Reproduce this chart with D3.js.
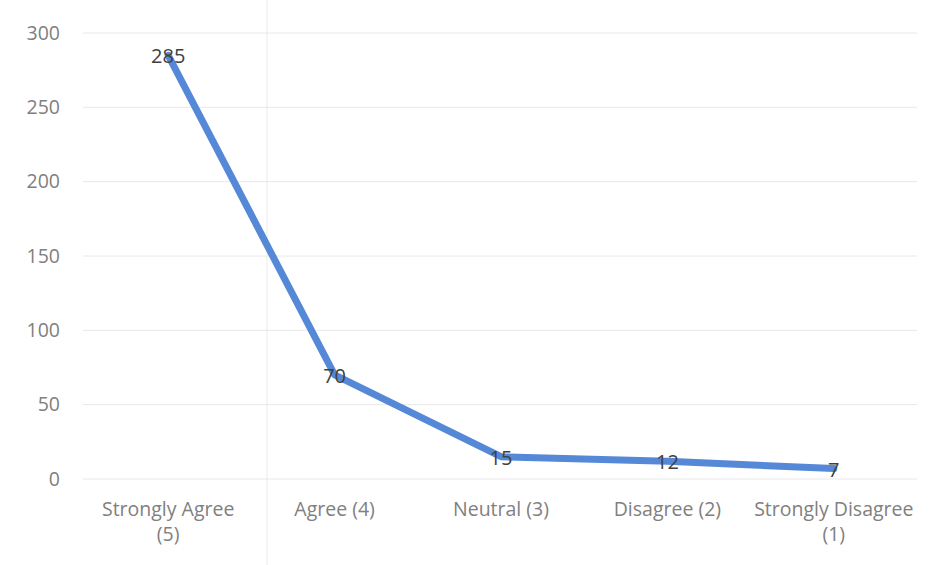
<!DOCTYPE html>
<html><head><meta charset="utf-8">
<script src="https://cdn.jsdelivr.net/npm/d3@7"></script>
<style>body{margin:0;background:#fff;} svg{display:block;}</style>
</head><body>
<svg id="c" width="934" height="565"></svg>
<script>
const categories = ["Strongly Agree (5)", "Agree (4)", "Neutral (3)", "Disagree (2)", "Strongly Disagree (1)"];
const catLines = [["Strongly Agree","(5)"],["Agree (4)"],["Neutral (3)"],["Disagree (2)"],["Strongly Disagree","(1)"]];
const values = [285, 70, 15, 12, 7];
const yTicks = [0, 50, 100, 150, 200, 250, 300];

const svg = d3.select("#c");
const font = "'Open Sans', 'Noto Sans', sans-serif";
const x = d3.scaleBand().domain(categories).range([85, 917]);
const y = d3.scaleLinear().domain([0, 300]).range([479, 33]);

// faint scan fold line
svg.append("line").attr("x1",267).attr("x2",267).attr("y1",0).attr("y2",565)
  .attr("stroke","#ececec").attr("stroke-width",1);

// gridlines
svg.append("g").selectAll("line").data(yTicks).join("line")
  .attr("x1", 83).attr("x2", 917)
  .attr("y1", d => y(d)).attr("y2", d => y(d))
  .attr("stroke", "#e8e8e8").attr("stroke-width", 1);

// y tick labels
svg.append("g").selectAll("text").data(yTicks).join("text")
  .attr("x", 60).attr("y", d => y(d)).attr("dy", "0.35em")
  .attr("text-anchor", "end")
  .attr("font-family", font).attr("font-size", 19.5).attr("fill", "#808080")
  .text(d => d);

// x labels
const xl = svg.append("g").selectAll("text").data(categories).join("text")
  .attr("x", d => x(d) + x.bandwidth()/2).attr("y", 516)
  .attr("text-anchor", "middle")
  .attr("font-family", font).attr("font-size", 19.5).attr("fill", "#808080");
xl.each(function(d, i) {
  const t = d3.select(this);
  catLines[i].forEach((s, j) => {
    t.append("tspan").attr("x", x(d) + x.bandwidth()/2).attr("dy", j === 0 ? 0 : 25).text(s);
  });
});

// line
const line = d3.line().x((d, i) => x(categories[i]) + x.bandwidth()/2).y(d => y(d));
svg.append("path").datum(values).attr("d", line)
  .attr("fill", "none").attr("stroke", "#5588d6").attr("stroke-width", 7)
  .attr("stroke-linejoin", "round").attr("stroke-linecap", "round");

// data labels
svg.append("g").selectAll("text").data(values).join("text")
  .attr("x", (d, i) => x(categories[i]) + x.bandwidth()/2)
  .attr("y", d => y(d) + 1).attr("dy", "0.35em")
  .attr("text-anchor", "middle")
  .attr("font-family", font).attr("font-size", 20).attr("fill", "#404040")
  .text(d => d);
</script>
</body></html>
